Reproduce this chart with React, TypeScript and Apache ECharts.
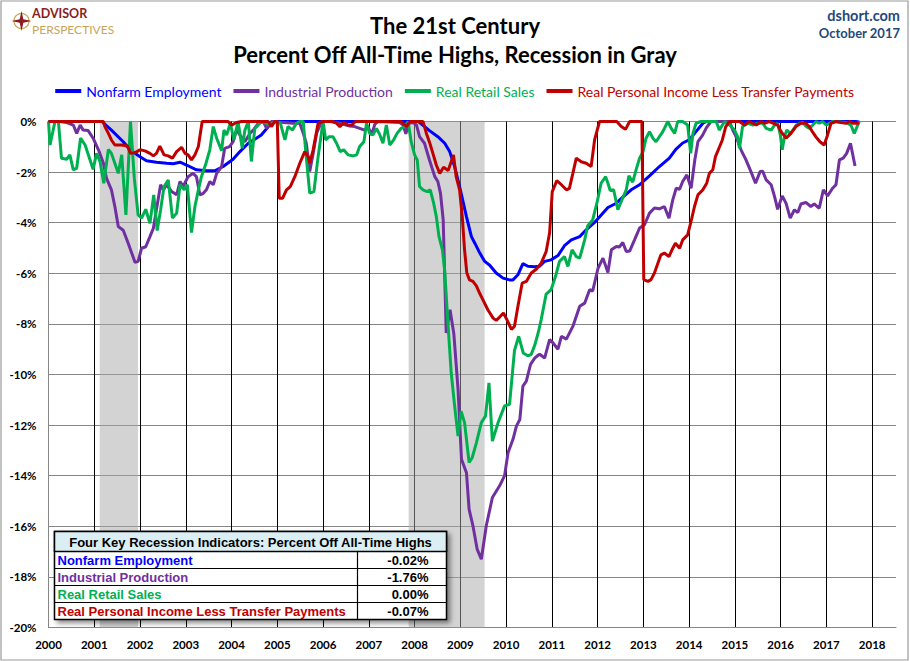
import React, { useEffect, useRef } from "react";
import * as echarts from "echarts";

// ---- data: [monthIndex since Jan 2000, percent off all-time high] ----
const seriesNames = [
  "Nonfarm Employment",
  "Industrial Production",
  "Real Retail Sales",
  "Real Personal Income Less Transfer Payments",
];
const seriesColors = ["#0000FF", "#7030A0", "#00B050", "#C00000"];

const employment: number[][] = [
  [0, 0], [14, 0], [16.5, -0.34], [19.6, -0.8], [21.4, -1.12], [24, -1.39], [25.7, -1.55], [28.3, -1.61],
  [31, -1.65], [32.7, -1.67], [34.5, -1.61], [36.2, -1.72], [38.8, -1.91], [41.4, -1.95], [43.6, -1.95],
  [45.8, -1.78], [48.4, -1.49], [50.2, -1.19], [52.4, -0.86], [54.5, -0.66], [55.8, -0.53], [58, -0.14],
  [59.3, 0], [97, 0], [99.9, -0.36], [102.1, -0.6], [103.9, -0.86], [105.2, -1.19], [106.5, -1.78],
  [107.8, -2.57], [109.6, -3.76], [110.9, -4.55], [111.8, -4.81], [113.1, -5.2], [114.4, -5.53],
  [115.7, -5.68], [117.4, -5.99], [119.2, -6.19], [120.9, -6.26], [121.8, -6.26], [123.1, -6.06],
  [124.4, -5.62], [125.7, -5.72], [127.5, -5.74], [128.8, -5.72], [130.1, -5.53], [131.8, -5.47],
  [133.6, -5.3], [135.3, -4.91], [137.1, -4.68], [139.3, -4.55], [141, -4.28], [143.2, -3.99],
  [145, -3.69], [146.7, -3.4], [148.9, -3.23], [150.6, -2.99], [152.8, -2.7], [155, -2.5],
  [157.6, -2.15], [160.2, -1.78], [162.8, -1.45], [164.5, -1.1], [166.3, -0.85], [168, -0.73],
  [169.8, -0.4], [171.6, -0.07], [172.5, 0], [211.6, 0], [212.6, -0.02],
];

const industrial: number[][] = [
  [0, 0], [3, 0], [4.8, -0.04], [6.5, -0.14], [7.4, -0.47], [8.3, -0.14], [9.1, -0.34], [10.4, -0.36],
  [11.7, -0.66], [13.1, -1.12], [14.4, -1.65], [15.2, -2.24], [16.5, -2.7], [17.4, -3.36], [18.3, -4.15],
  [19.6, -4.3], [20.9, -4.81], [22.7, -5.57], [23.5, -5.53], [24.4, -5.01], [25.5, -4.95], [26.6, -4.55],
  [27.5, -4.22], [28.3, -3.49], [29.4, -2.5], [30.1, -2.7], [31, -2.5], [32.3, -2.77], [33.6, -2.9],
  [34.5, -2.37], [35.3, -2.57], [36.6, -2.18], [37.9, -2.05], [38.8, -2.18], [39.7, -2.9], [40.6, -2.84],
  [41.4, -2.7], [42.3, -2.37], [43.2, -2.5], [44.1, -2.05], [45.4, -1.78], [46.2, -1.06], [47.5, -0.99],
  [48.4, -0.8], [49.3, -0.34], [50.2, -0.53], [51.5, -0.8], [52.8, -0.47], [53.7, -0.34], [55, -0.07],
  [56.3, 0], [57.2, -0.27], [58.5, 0], [64.1, -0.07], [65.9, -0.07], [66.8, -0.47], [67.6, -0.86],
  [68.5, -1.98], [69.4, -1.26], [70.3, -0.47], [71.6, 0], [73.8, 0], [76.4, -0.07], [79, -0.18],
  [80.3, -0.2], [81.6, -0.27], [82.9, -0.34], [83.8, -0.2], [84.7, -0.53], [85.6, -0.1], [86.4, 0],
  [92.1, -0.04], [93, -0.14], [93.7, -0.49], [94.5, -0.07], [95.6, -0.04], [96.5, -0.14], [97.3, -0.6],
  [98.6, -0.86], [99.9, -1.52], [101.3, -2.18], [102.1, -2.37], [102.8, -2.84], [103.5, -3.89],
  [104.3, -8.36], [105.3, -7.44], [106.3, -8.4], [107.4, -10.6], [108.3, -13.35], [109.6, -13.88],
  [110.3, -15.33], [111.3, -15.98], [112.4, -16.9], [113.5, -17.3], [114.8, -15.98], [116.4, -14.86],
  [118.3, -14.4], [119.6, -14.0], [120.5, -13.09], [121.8, -12.56], [122.7, -12.04], [123.6, -11.78],
  [124.4, -10.46], [125.3, -10.26], [126.4, -9.6], [127.5, -9.35], [128.3, -9.25], [128.8, -9.2],
  [130.1, -9.35], [131.4, -8.62], [132.3, -8.75], [133.6, -9.0], [134.5, -8.49], [135.8, -8.6],
  [137.5, -8.1], [139.3, -7.3], [140.6, -7.18], [141.9, -6.65], [142.7, -6.7], [144.1, -5.8],
  [145.4, -5.4], [146.7, -5.97], [147.6, -5.07], [148.9, -4.94], [149.7, -4.96], [150.6, -4.78],
  [151.5, -5.14], [152.4, -5.12], [153.7, -4.67], [155, -4.21], [156.3, -4.08], [157.6, -3.62],
  [158.9, -3.42], [160.2, -3.45], [161.5, -3.36], [162.7, -3.82], [163.7, -3.1], [164.6, -2.64],
  [165.5, -2.68], [166.3, -2.37], [167.4, -2.11], [168.5, -2.64], [169.5, -1.5], [170.3, -0.8],
  [171.5, -0.55], [172.5, -0.25], [173.7, 0], [178.6, 0], [179.4, -0.33], [180.3, -0.6], [181.6, -1.12],
  [182.9, -1.52], [184.2, -1.98], [185.4, -2.44], [186.6, -1.98], [187.3, -1.97], [188.2, -2.31],
  [189.5, -2.5], [190.4, -2.97], [191.2, -3.47], [192.4, -2.94], [193.4, -3.23], [194.5, -3.82],
  [195.6, -3.49], [196.5, -3.6], [197.3, -3.26], [198.6, -3.2], [199.9, -3.36], [200.8, -3.26],
  [202.1, -3.43], [203.2, -2.7], [204.3, -2.94], [205.6, -2.64], [206.5, -2.5], [207.4, -1.52],
  [208.4, -1.45], [209.3, -1.26], [210.3, -0.86], [211.5, -1.76],
];

const retail: number[][] = [
  [0, 0], [0.4, -0.93], [1.7, 0], [2.6, 0], [3.4, -1.45], [4.8, -1.49], [5.6, -1.32], [6.5, -1.91],
  [7.4, -1.84], [8.4, -0.66], [9.6, -0.93], [10.9, -1.52], [11.7, -1.89], [12.6, -1.26], [13.5, -1.58],
  [14.5, -2.44], [15.7, -1.1], [16.5, -1.26], [17.4, -1.65], [18.3, -2.05], [19.2, -1.32], [20.3, -3.69],
  [21.5, 0], [22.5, -2.24], [23.5, -3.69], [24.4, -3.82], [25.5, -3.47], [26.6, -4.02], [27.6, -2.9],
  [28.5, -4.31], [29.4, -3.49], [30.3, -2.57], [31.4, -2.31], [32.5, -3.82], [33.6, -3.62], [34.5, -2.5],
  [35.6, -2.7], [36.4, -2.5], [37.5, -4.39], [38.4, -3.36], [39.3, -2.7], [40.1, -2.18], [41.3, -1.65],
  [42.3, -1.12], [43.2, -0.2], [44.1, -0.66], [45.4, -1.15], [46, -0.34], [46.7, -0.53], [47.7, -0.07],
  [48.6, -0.73], [49.7, 0], [50.8, -1.06], [51.5, -0.34], [52.4, 0], [53.2, -1.58], [54.1, -0.27],
  [55, -0.14], [55.8, 0], [57.2, -0.07], [58, -0.14], [59.3, 0], [60.8, -0.07], [62, -0.73], [62.8, -0.2],
  [64, -0.34], [65, -0.07], [65.9, 0], [66.8, 0], [67.5, -1.26], [68.5, -2.83], [69.6, -2.77],
  [70.7, -1.39], [72, 0], [72.7, -0.73], [73.6, -0.6], [74.6, -0.6], [75.5, -0.85], [76.5, -1.19],
  [77.4, -1.12], [78.6, -1.32], [79.9, -1.36], [80.8, -1.32], [81.6, -0.99], [82.7, -0.8], [83.4, -0.07],
  [84.2, -0.47], [85.1, -0.53], [86, -0.27], [86.9, -0.53], [87.7, -0.86], [88.6, -0.14], [89.5, -0.93],
  [90.5, -0.73], [91.4, -0.47], [92.5, -0.27], [93.4, -0.2], [94.3, 0], [95.1, -0.8], [96, -1.32],
  [96.7, -1.52], [97.3, -2.57], [98.2, -2.7], [99.3, -2.77], [100.1, -2.7], [101, -3.23], [101.7, -3.76],
  [102.4, -4.55], [103.3, -5.07], [103.9, -5.9], [104.8, -8.1], [105.6, -9.93], [106.5, -11.24],
  [107.4, -12.43], [108.2, -11.45], [109.1, -11.9], [110.3, -13.48], [111.1, -13.29], [112.2, -12.7],
  [113.5, -11.9], [114.6, -11.64], [115.5, -10.33], [116.4, -12.63], [117.9, -11.9], [119.6, -11.24],
  [120.9, -11.18], [122.2, -9.05], [123.3, -8.49], [124.5, -9.15], [125.7, -9.26], [126.6, -9.2],
  [127.6, -8.8], [128.5, -8.3], [129.2, -7.83], [130.5, -6.82], [131.8, -6.65], [133, -6.1], [134, -5.53],
  [135.3, -5.34], [136.2, -5.73], [137.3, -5.07], [138.4, -5.34], [139.3, -5.4], [140.6, -4.68],
  [141.4, -4.12], [142.7, -3.89], [143.8, -3.23], [144.9, -2.44], [146.1, -2.18], [146.7, -2.44],
  [147.3, -2.73], [148.2, -2.7], [149.3, -3.49], [150.2, -3.16], [151.5, -2.7], [152.2, -2.15],
  [153.2, -2.4], [154.1, -1.9], [155, -1.45], [155.9, -1.19], [156.7, -0.66], [157.6, -0.4],
  [158.5, -0.66], [159.3, -0.8], [160.2, -0.6], [161.1, -0.4], [162.4, 0], [163.3, -0.27], [164.2, -0.47],
  [165, 0], [166.3, 0], [167.6, -0.14], [168.4, -1.26], [169, -0.47], [169.8, -0.07], [171.1, 0],
  [175.1, 0], [175.9, -0.34], [177.3, 0], [178.6, -0.14], [179.9, -0.34], [180.7, -0.6], [181.2, -1.06],
  [182, -0.2], [183.4, -0.07], [184.7, -0.14], [186, -0.07], [187.3, -0.07], [188.2, -0.27],
  [189.5, -0.34], [190.4, -0.14], [191.2, -0.07], [191.9, -0.53], [192.4, -1.12], [193, -0.6],
  [193.6, -0.34], [194.5, -0.47], [195.2, -0.34], [196.1, -0.14], [197, -0.07], [197.8, -0.04],
  [198.7, -0.2], [199.5, -0.27], [200.4, -0.14], [201.3, 0], [202.1, -0.07], [203, 0], [203.9, -0.14],
  [204.8, -0.07], [205.6, 0], [209.1, -0.04], [210.4, -0.14], [211.3, -0.47], [212.6, 0],
];

const income: number[][] = [
  [0, 0], [14.4, 0], [14.8, -0.2], [15.7, -0.47], [16.5, -0.73], [17.4, -0.93], [19.2, -0.93],
  [20.7, -0.97], [21.5, -1.26], [22.7, -1.23], [24, -1.12], [25.3, -1.16], [26.6, -1.26], [27.5, -1.36],
  [28.3, -1.26], [29.2, -0.97], [30.3, -1.32], [31.4, -1.36], [32.5, -1.45], [33.6, -1.19], [34.9, -1.02],
  [35.8, -1.26], [36.6, -1.32], [37.5, -1.52], [38.4, -1.32], [39.3, -0.99], [40.3, 0], [47.1, 0],
  [48, -0.14], [49.3, -0.04], [50.6, 0], [57.6, 0], [58.5, -0.2], [59.3, 0], [60, 0], [60.5, -3.03],
  [61.4, -3.03], [62.4, -2.7], [63.4, -2.57], [64.6, -2.18], [65.9, -1.65], [67.2, -1.19], [68.1, -1.39],
  [68.5, -1.65], [69.4, -1.12], [70.7, -0.07], [72, 0], [74.6, 0], [75.5, -0.07], [76.4, -0.2],
  [77.5, -0.04], [78.5, -0.14], [79.5, -0.14], [80.5, 0], [92.5, 0], [93.9, -0.2], [94.8, 0], [98.2, 0],
  [99.1, -0.47], [100, -0.86], [100.8, -1.26], [101.7, -1.72], [102.6, -2.05], [103.6, -1.81],
  [104.8, -1.94], [105.6, -1.59], [106.2, -1.32], [106.9, -2.18], [107.8, -2.7], [108.5, -3.76],
  [109.1, -5.07], [109.7, -5.99], [110.4, -6.26], [111.3, -6.32], [112.2, -6.5], [113.1, -6.8],
  [113.9, -7.04], [115.2, -7.44], [116.6, -7.77], [117.4, -7.86], [118.3, -7.73], [119.3, -7.57],
  [120.2, -7.83], [121.4, -8.22], [122.2, -8.09], [123.1, -7.3], [124.2, -6.39], [125.3, -6.32],
  [126.6, -5.99], [127.9, -5.84], [129.2, -5.6], [130.5, -5.14], [131.4, -4.41], [132.1, -2.77],
  [133.3, -2.34], [134.5, -2.5], [135.8, -2.7], [136.6, -2.64], [137.5, -2.05], [138.4, -1.45],
  [139.7, -1.59], [141, -1.65], [142.3, -1.78], [143.2, -0.73], [144.5, 0], [149, 0], [150.2, -0.2],
  [151.3, -0.31], [152.4, 0], [155.6, 0], [156.1, -6.25], [157.2, -6.32], [158, -6.25], [158.9, -5.99],
  [159.8, -5.6], [160.6, -5.27], [161.5, -5.2], [162.7, -5.34], [163.5, -5.07], [164.4, -4.81],
  [165.5, -5.01], [166.3, -4.68], [167.6, -4.48], [168.5, -3.95], [169.4, -3.36], [170.3, -2.9],
  [171.6, -2.7], [172.6, -2.44], [173.3, -2.05], [174.2, -1.91], [174.9, -1.39], [176, -0.99],
  [176.7, -0.73], [177.6, -0.2], [178.6, 0], [181.2, 0], [182.5, -0.14], [183.8, 0], [185.6, -0.14],
  [186.9, 0], [187.7, -0.07], [189, 0], [191.2, -0.14], [192.1, -0.4], [193.4, -0.66], [194.7, -0.47],
  [196, -0.2], [197.3, -0.07], [198.6, -0.07], [199.5, -0.2], [200.3, -0.4], [201.2, -0.6],
  [202.3, -0.8], [203.4, -0.93], [204.3, -0.53], [205.2, -0.07], [206.5, 0], [207.8, -0.04],
  [209.2, -0.07], [210.1, 0], [210.9, -0.07], [212.6, -0.07],
];

const recessions: number[][] = [
  [2001.12, 2001.955],
  [2007.87, 2009.53],
];

const tableTitle = "Four Key Recession Indicators: Percent Off All-Time Highs";
const tableValues = ["-0.02%", "-1.76%", "0.00%", "-0.07%"];

const titleLines = ["The 21st Century", "Percent Off All-Time Highs, Recession in Gray"];
const sourceLines = ["dshort.com", "October 2017"];
const logoLines = ["ADVISOR", "PERSPECTIVES"];

const toXY = (arr: number[][]) => arr.map(([m, v]) => [2000 + m / 12, v]);

export default function App() {
  const ref = useRef<HTMLDivElement>(null);
  useEffect(() => {
    document.body.style.margin = "0";
    if (!ref.current) return;
    const chart = echarts.init(ref.current, undefined, { renderer: "svg" });
    const allSeries = [employment, industrial, retail, income];
    const Z = 100;

    const tX = 54.5, tW = 392, tTop = 531.5, headH = 20, rowH = 17;
    const divX = 357.5;
    const tableFont = "bold 13px 'Liberation Sans', Arial";
    const tableEls: any[] = [
      {
        type: "rect", z: Z,
        shape: { x: tX, y: tTop, width: tW, height: headH + rowH * 4 },
        style: {
          fill: "#fff", stroke: "#000", lineWidth: 1.5,
          shadowBlur: 5, shadowOffsetX: 3, shadowOffsetY: 3, shadowColor: "rgba(0,0,0,0.45)",
        },
      },
      {
        type: "rect", z: Z + 1,
        shape: { x: tX, y: tTop, width: tW, height: headH },
        style: { fill: "#DAEEF3", stroke: "#000", lineWidth: 1.5 },
      },
      {
        type: "text", z: Z + 2,
        x: tX + tW / 2, y: tTop + headH / 2 + 0.5,
        style: {
          text: tableTitle, font: tableFont, fill: "#000",
          align: "center", verticalAlign: "middle", textAlign: "center", textVerticalAlign: "middle",
        },
      },
      {
        type: "line", z: Z + 1,
        shape: { x1: divX, y1: tTop + headH, x2: divX, y2: tTop + headH + rowH * 4 },
        style: { stroke: "#000", lineWidth: 1.2 },
      },
    ];
    seriesNames.forEach((name, i) => {
      const yTop = tTop + headH + rowH * i;
      if (i > 0) {
        tableEls.push({
          type: "line", z: Z + 1,
          shape: { x1: tX, y1: yTop, x2: tX + tW, y2: yTop },
          style: { stroke: "#000", lineWidth: 1.2 },
        });
      }
      tableEls.push({
        type: "text", z: Z + 2,
        x: tX + 3, y: yTop + rowH / 2 + 0.5,
        style: {
          text: name, font: tableFont, fill: seriesColors[i],
          align: "left", verticalAlign: "middle", textAlign: "left", textVerticalAlign: "middle",
        },
      });
      tableEls.push({
        type: "text", z: Z + 2,
        x: 428.5, y: yTop + rowH / 2 + 0.5,
        style: {
          text: tableValues[i], font: tableFont, fill: "#000",
          align: "right", verticalAlign: "middle", textAlign: "right", textVerticalAlign: "middle",
        },
      });
    });

    const starPts: number[][] = [];
    for (let k = 0; k < 8; k++) {
      const a = (Math.PI / 4) * k - Math.PI / 2;
      const r = k % 2 === 0 ? 10 : 2.6;
      starPts.push([21.5 + r * Math.cos(a), 21 + r * Math.sin(a)]);
    }

    const txt = (text: string, x: number, y: number, font: string, fill: string, align = "center") => ({
      type: "text", x, y, z: Z,
      style: { text, font, fill, align, verticalAlign: "middle", textAlign: align, textVerticalAlign: "middle" },
    });

    const option: any = {
      animation: false,
      backgroundColor: "#fff",
      grid: { left: 48.5, right: 14, top: 121.5, bottom: 33.5, containLabel: false },
      legend: {
        top: 79,
        left: "center",
        icon: "rect",
        itemWidth: 26,
        itemHeight: 4,
        itemGap: 12,
        selectedMode: false,
        textStyle: { fontFamily: "Lato", fontSize: 14 },
        data: seriesNames.map((n, i) => ({ name: n, textStyle: { color: seriesColors[i] } })),
      },
      xAxis: {
        type: "value",
        min: 2000,
        max: 2018.52,
        interval: 1,
        axisLine: { show: true, onZero: false, lineStyle: { color: "#868686", width: 1 } },
        axisTick: { show: false },
        axisLabel: {
          formatter: (v: number) => String(v),
          showMaxLabel: false,
          color: "#000",
          fontFamily: "Lato",
          fontWeight: "bold",
          fontSize: 11.5,
          margin: 11,
        },
        splitLine: { show: true, showMinLine: false, showMaxLine: false, lineStyle: { color: "#000", width: 1 } },
      },
      yAxis: {
        type: "value",
        min: -20,
        max: 0,
        interval: 2,
        axisLine: { show: true, onZero: false, lineStyle: { color: "#868686", width: 1 } },
        axisTick: { show: false },
        axisLabel: {
          formatter: "{value}%", color: "#000", fontFamily: "Lato", fontWeight: "bold", fontSize: 11.5, margin: 12,
        },
        splitLine: { show: true, lineStyle: { color: "#868686", width: 1 } },
      },
      series: allSeries.map((d, i) => ({
        name: seriesNames[i],
        type: "line",
        data: toXY(d),
        showSymbol: false,
        symbol: "none",
        color: seriesColors[i],
        lineStyle: { color: seriesColors[i], width: 3 },
        z: 2 + i,
        markArea:
          i === 0
            ? {
                silent: true,
                itemStyle: { color: "rgba(168,168,168,0.5)" },
                data: recessions.map(([a, b]) => [{ xAxis: a }, { xAxis: b }]),
              }
            : undefined,
      })),
      graphic: [
        {
          type: "rect", z: Z,
          shape: { x: 1, y: 1, width: 907, height: 659 },
          style: { fill: "none", stroke: "#9a9a9a", lineWidth: 1.2 },
        },
        {
          type: "circle", z: Z,
          shape: { cx: 21.5, cy: 21, r: 7.5 },
          style: { fill: "none", stroke: "#C9A55A", lineWidth: 1.3 },
        },
        {
          type: "polygon", z: Z,
          shape: { points: starPts },
          style: { fill: "#8B1C23" },
        },
        txt(logoLines[0], 32, 13, "bold 12.5px Lato", "#8B1C23", "left"),
        txt(logoLines[1], 32, 29.5, "12px Lato", "#C9A55A", "left"),
        txt(titleLines[0], 455, 25.5, "bold 22px Lato", "#000"),
        txt(titleLines[1], 455, 54.5, "bold 22px Lato", "#000"),
        txt(sourceLines[0], 900, 15, "bold 14.5px Lato", "#1F497D", "right"),
        txt(sourceLines[1], 900, 33, "bold 13px Lato", "#1F497D", "right"),
        ...tableEls,
      ],
    };
    chart.setOption(option);
    return () => chart.dispose();
  }, []);
  return <div ref={ref} style={{ position: "absolute", left: 0, top: 0, width: 910, height: 661 }} />;
}
